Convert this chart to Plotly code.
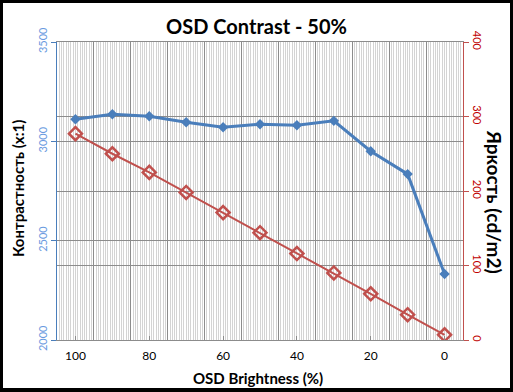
import plotly.graph_objects as go

brightness_pct = [100, 90, 80, 70, 60, 50, 40, 30, 20, 10, 0]
contrast = [3111, 3136, 3126, 3096, 3071, 3086, 3081, 3103, 2950, 2835, 2332]
luminance = [277, 250, 225, 198, 171, 144, 116, 90, 62, 34, 7]
x_tick_labels = [100, 80, 60, 40, 20, 0]
category_bounds = [95, 85, 75, 65, 55, 45, 35, 25, 15, 5]

W, H = 513, 392
ML, MR, MT, MB = 57, 50, 42, 52
PW, PH = W - ML - MR, H - MT - MB

def px(x):
    return (x - ML) / PW

def py(y):
    return (H - MB - y) / PH

FONT = "Lato"
BLUE = "#4a7ebb"
RED = "#c0504d"
DARK = "#8c8c8c"
LIGHT = "#d4d4d4"

fig = go.Figure()
fig.add_trace(go.Scatter(
    x=brightness_pct, y=contrast, mode="lines+markers",
    line=dict(color=BLUE, width=3),
    marker=dict(symbol="diamond", size=8, color=BLUE),
    xaxis="x", yaxis="y", showlegend=False))
fig.add_trace(go.Scatter(
    x=brightness_pct, y=luminance, mode="lines+markers",
    line=dict(color=RED, width=2),
    marker=dict(symbol="diamond-open", size=10, color=RED, line=dict(width=2.5, color=RED)),
    xaxis="x2", yaxis="y2", showlegend=False))

fig.update_layout(
    width=W, height=H,
    margin=dict(l=ML, r=MR, t=MT, b=MB, autoexpand=False),
    paper_bgcolor="black",
    plot_bgcolor="white",
    font=dict(family=FONT, color="black"),
    title=dict(text="<b>OSD Contrast - 50%</b>", x=0.5, xanchor="center",
               y=1 - 27 / H, yanchor="middle", font=dict(size=20, family=FONT, color="black")),
    xaxis=dict(range=[105, -5], tickmode="array", tickvals=category_bounds, automargin=False,
               showticklabels=False, ticks="", showgrid=True, gridcolor=DARK, gridwidth=1,
               showline=True, linecolor=DARK, linewidth=1, mirror=True, zeroline=False,
               minor=dict(tick0=5, dtick=10 / 16, showgrid=True, gridcolor=LIGHT, gridwidth=1, ticks="")),
    xaxis2=dict(range=[105, -5], overlaying="x", anchor="y", side="bottom", automargin=False,
                tickmode="array", tickvals=x_tick_labels,
                ticktext=[str(v) for v in x_tick_labels], ticklabelstandoff=7,
                ticks="inside", ticklen=4, tickcolor=DARK, showgrid=False, zeroline=False,
                showline=False, tickfont=dict(size=12, family=FONT, color="black")),
    yaxis=dict(range=[2000, 3500], tickmode="linear", tick0=2000, dtick=500, automargin=False,
               showgrid=True, gridcolor=DARK, gridwidth=1, zeroline=False,
               showline=True, linecolor=BLUE, linewidth=1,
               ticks="outside", ticklen=5, tickcolor=BLUE, tickangle=-90,
               tickfont=dict(size=11, family=FONT, color="#6a9ae0")),
    yaxis2=dict(range=[0, 400], tickmode="linear", tick0=0, dtick=100, automargin=False,
                overlaying="y", side="right", anchor="x",
                showgrid=True, gridcolor=DARK, gridwidth=1, zeroline=False,
                showline=True, linecolor=RED, linewidth=1,
                ticks="outside", ticklen=5, tickcolor=RED, tickangle=90,
                tickfont=dict(size=11, family=FONT, color="#c00000")),
    shapes=[dict(type="rect", xref="paper", yref="paper",
                 x0=px(3), x1=px(510), y0=py(388), y1=py(3),
                 fillcolor="white", line=dict(width=0), layer="below")],
    annotations=[
        dict(text="<b>Контрастность (x:1)</b>", xref="paper", yref="paper",
             x=px(18), y=py(189), textangle=-90, showarrow=False,
             xanchor="center", yanchor="middle", font=dict(size=15, family=FONT, color="black")),
        dict(text="<b>Яркость (cd/m2)</b>", xref="paper", yref="paper",
             x=px(495), y=py(202), textangle=90, showarrow=False,
             xanchor="center", yanchor="middle", font=dict(size=19, family=FONT, color="black")),
        dict(text="<b>OSD Brightness (%)</b>", xref="paper", yref="paper",
             x=px(258), y=py(378), showarrow=False,
             xanchor="center", yanchor="middle", font=dict(size=15, family=FONT, color="black")),
    ],
)

fig.write_html("out.html", config={"displayModeBar": False},
               post_script="document.body.style.margin='0';document.body.style.overflow='hidden';")
